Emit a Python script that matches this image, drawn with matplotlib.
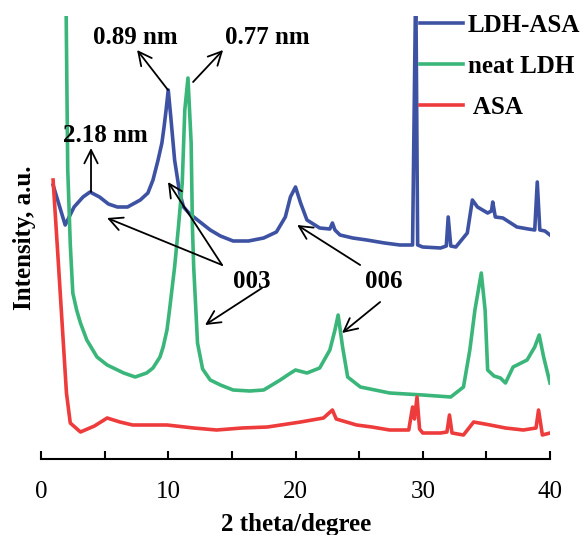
import matplotlib.pyplot as plt
from matplotlib.ticker import MultipleLocator

plt.rcParams['font.family'] = ['Liberation Serif', 'DejaVu Serif']

# 2 theta (degree) / intensity (a.u., arbitrary offset scale)
ldh_asa_x = [0.95, 1.9, 2.6, 3.3, 3.85, 4.6, 5.3, 6.0, 6.8, 7.8, 8.4, 8.8, 9.2, 9.5, 9.67, 9.83,
             10.0, 10.2, 10.5, 10.9, 11.2, 11.7, 12.3, 13.3, 14.1, 15.1, 16.3, 17.5, 18.5, 19.2,
             19.6, 20.0, 20.4, 20.9, 21.9, 22.7, 22.9, 23.1, 23.5, 24.5, 25.6, 27.0, 28.2, 29.2,
             29.45, 29.6, 30.0, 31.4, 31.85, 32.0, 32.2, 32.6, 33.5, 33.9, 34.3, 35.1, 35.4,
             35.5, 35.7, 36.3, 37.4, 38.3, 38.8, 39.0, 39.2, 39.6, 40.0]
ldh_asa_y = [274, 234, 252, 262, 267, 262, 255, 252, 252, 259, 266, 279, 299, 316, 332, 349,
             369, 342, 299, 266, 252, 245, 239, 229, 223, 218, 218, 221, 227, 242,
             262, 272, 256, 239, 231, 230, 236, 229, 224, 221, 219, 216, 214, 214,
             480, 214, 212, 211, 213, 242, 213, 212, 226, 259, 252, 246, 248,
             257, 242, 241, 232, 230, 229, 277, 229, 228, 224]

neat_ldh_x = [1.95, 2.1, 2.3, 2.5, 2.8, 3.1, 3.6, 4.4, 5.2, 6.5, 7.4, 8.3, 8.8, 9.35, 9.6, 9.9,
              10.1, 10.5, 10.8, 11.1, 11.3, 11.55, 11.8, 11.9, 12.0, 12.3, 12.7, 13.3, 14.1,
              15.1, 16.4, 17.5, 18.8, 19.5, 20.0, 20.9, 21.9, 22.7, 23.1, 23.35, 23.7, 24.1,
              25.1, 27.4, 30.0, 32.2, 33.2, 33.7, 34.1, 34.6, 34.9, 35.1, 35.6, 36.1, 36.5,
              37.1, 38.2, 38.8, 39.15, 39.5, 40.0]
neat_ldh_y = [480, 290, 215, 166, 149, 136, 119, 102, 94, 86, 82, 86, 91, 102, 112, 129,
              149, 192, 232, 276, 349, 381, 316, 232, 192, 116, 90, 79, 74,
              69, 68, 69, 79, 85, 89, 86, 91, 109, 129, 144, 112, 82,
              72, 66, 64, 62, 72, 109, 149, 186, 149, 89, 83, 81, 76,
              92, 99, 112, 124, 102, 76]

asa_x = [0.95, 1.35, 2.0, 2.3, 3.1, 4.2, 5.2, 6.2, 7.2, 9.9, 12.0, 13.8, 15.8, 17.8, 20.4,
         22.2, 22.9, 23.2, 24.8, 26.0, 27.4, 28.9, 29.2, 29.35, 29.55, 29.75, 30.0, 31.4,
         31.9, 32.1, 32.3, 33.2, 34.0, 35.3, 36.5, 37.9, 38.9, 39.1, 39.4, 40.0]
asa_y = [279, 199, 66, 36, 27, 33, 41, 37, 34, 34, 31, 29, 31, 32, 37,
         41, 49, 40, 34, 32, 29, 29, 52, 40, 62, 30, 26, 26,
         27, 44, 26, 24, 37, 34, 31, 29, 31, 49, 24, 26]

series = [
    ('LDH-ASA', ldh_asa_x, ldh_asa_y, '#3E52A3'),
    ('neat LDH', neat_ldh_x, neat_ldh_y, '#3BB67A'),
    (' ASA', asa_x, asa_y, '#EE3B3B'),
]

fig = plt.figure(figsize=(5.82, 5.35), dpi=100)
ax = fig.add_axes([41 / 582, 76 / 535, 509 / 582, 443 / 535])

for name, xs, ys, col in series:
    ax.plot(xs, ys, color=col, lw=2.6, label=name)

ax.set_xlim(0, 40)
ax.set_ylim(0, 443)
for s in ['left', 'top', 'right']:
    ax.spines[s].set_visible(False)
ax.spines['bottom'].set_linewidth(1.5)
ax.set_yticks([])
ax.xaxis.set_major_locator(MultipleLocator(10))
ax.xaxis.set_minor_locator(MultipleLocator(5))
ax.tick_params(axis='x', which='both', direction='in', length=6, width=1.5, pad=16,
               labelsize=18)

fig.text(24 / 582, 1 - 238 / 535, 'Intensity, a.u.', rotation=90, ha='center', va='center',
         fontsize=18, fontweight='bold')
fig.text(0.508, 1 - 524 / 535, '2 theta/degree', ha='center', va='center',
         fontsize=18, fontweight='bold')

ax.legend(loc='upper left', bbox_to_anchor=(420 / 582, 1 - 14 / 535),
          bbox_transform=fig.transFigure, frameon=False, borderpad=0, borderaxespad=0,
          handlelength=1.7, handletextpad=0.2, labelspacing=0.72,
          prop={'size': 18, 'weight': 'bold'})

# peak labels
txt = dict(fontsize=18, fontweight='bold', ha='center', va='center')
ax.text(7.39, 422, '0.89 nm', **txt)
ax.text(17.77, 422, '0.77 nm', **txt)
ax.text(5.03, 324, '2.18 nm', **txt)
ax.text(16.59, 177, '003', **txt)
ax.text(26.97, 177, '006', **txt)

arrows = [
    ((9.98, 369), (7.55, 409)),
    ((11.95, 377), (14.31, 409)),
    ((3.93, 267), (3.93, 311)),
    ((14.23, 194), (5.19, 241)),
    ((14.23, 194), (9.98, 277)),
    ((17.37, 171), (12.89, 134)),
    ((25.08, 194), (20.13, 234)),
    ((26.65, 157), (23.66, 126)),
]
for tail, tip in arrows:
    ax.annotate('', xy=tip, xytext=tail,
                arrowprops=dict(arrowstyle='->,head_length=0.6,head_width=0.3', lw=1.3,
                                color='black', shrinkA=0, shrinkB=0, mutation_scale=16))

fig.savefig('out.png', dpi=100)
